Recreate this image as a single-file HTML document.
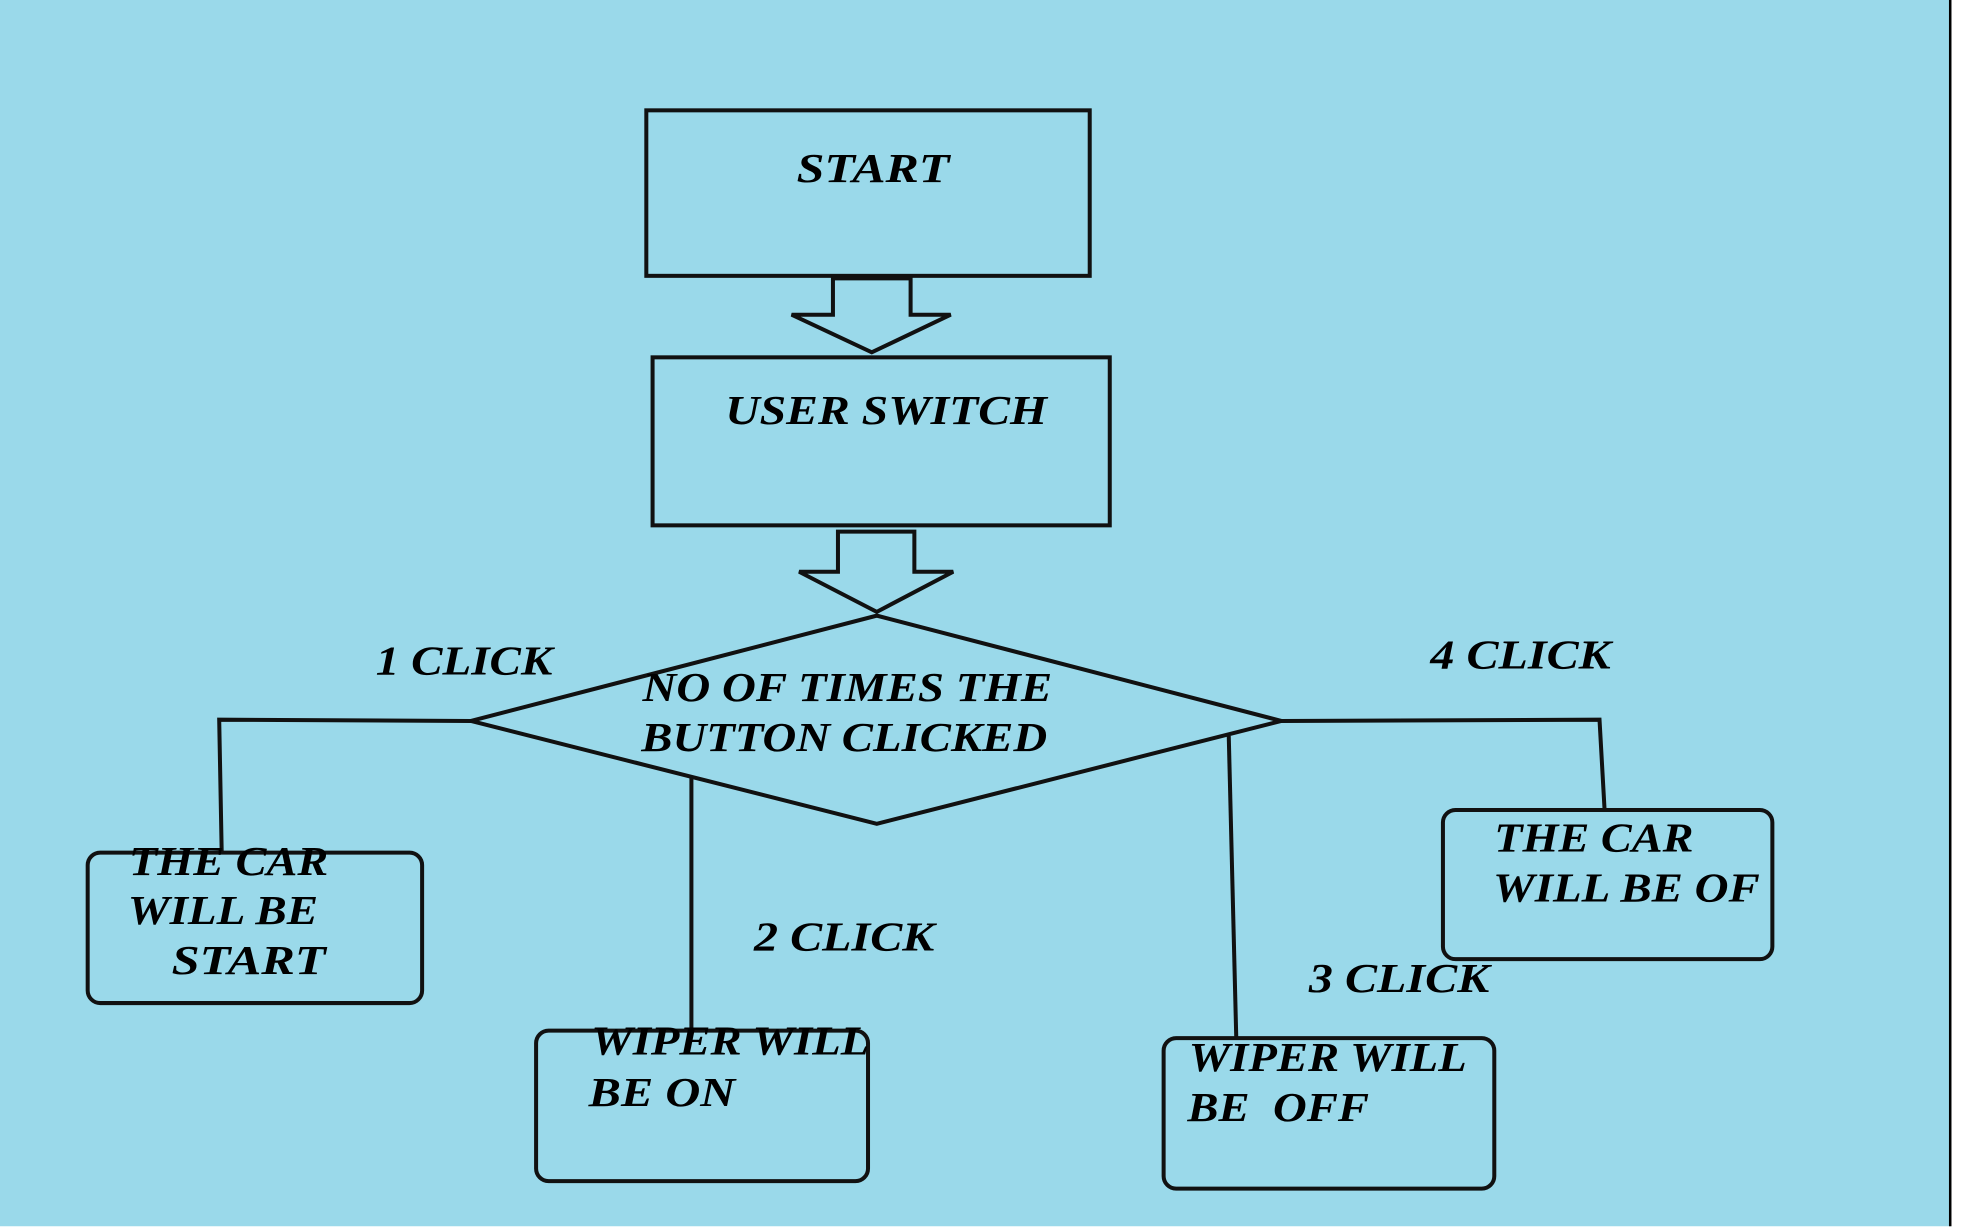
<!DOCTYPE html>
<html><head><meta charset="utf-8"><style>
html,body{margin:0;padding:0;background:#fff;}
svg{display:block;}
text{font-family:"Liberation Serif",serif;font-weight:bold;font-style:italic;font-size:33px;fill:#000;}
</style></head><body>
<svg width="1964" height="1230" viewBox="0 0 1568 981" preserveAspectRatio="none" xmlns="http://www.w3.org/2000/svg">
<rect x="0" y="0" width="1558" height="978" fill="#9ad9ea"/>
<line x1="1557" y1="0" x2="1557" y2="978" stroke="#000" stroke-width="2"/>
<g fill="none" stroke="#111" stroke-width="3.2">
<rect x="516" y="88" width="354" height="132"/>
<polygon points="665,222 727,222 727,251 759,251 696,281 632,251 665,251" />
<rect x="521" y="285" width="365" height="134"/>
<polygon points="669,424 730,424 730,456 761,456 700,488 638,456 669,456"/>
<polygon points="700,491 1023,575 700,657 376,575"/>
<polyline points="376,575 175,574 177,680"/>
<rect x="70" y="680" width="267" height="120" rx="10"/>
<line x1="552" y1="620" x2="552" y2="825"/>
<rect x="428" y="822" width="265" height="120" rx="10"/>
<line x1="981" y1="587" x2="987" y2="828"/>
<rect x="929" y="828" width="264" height="120" rx="10"/>
<polyline points="1023,575 1277,574 1281,645"/>
<rect x="1152" y="646" width="263" height="119" rx="10"/>
</g>
<g transform="translate(0,-2)">
<text x="636" y="147" textLength="122" lengthAdjust="spacingAndGlyphs">START</text>
<text x="579" y="340" textLength="257" lengthAdjust="spacingAndGlyphs">USER SWITCH</text>
<text x="513" y="561" textLength="327" lengthAdjust="spacingAndGlyphs">NO OF TIMES THE</text>
<text x="512" y="601" textLength="324" lengthAdjust="spacingAndGlyphs">BUTTON CLICKED</text>
<text x="300" y="540" textLength="141" lengthAdjust="spacingAndGlyphs">1 CLICK</text>
<text x="1142" y="535" textLength="144" lengthAdjust="spacingAndGlyphs">4 CLICK</text>
<text x="103" y="700" textLength="159" lengthAdjust="spacingAndGlyphs">THE CAR</text>
<text x="102" y="739" textLength="152" lengthAdjust="spacingAndGlyphs">WILL BE</text>
<text x="137" y="779" textLength="123" lengthAdjust="spacingAndGlyphs">START</text>
<text x="602" y="760" textLength="144" lengthAdjust="spacingAndGlyphs">2 CLICK</text>
<text x="472" y="843" textLength="222" lengthAdjust="spacingAndGlyphs">WIPER WILL</text>
<text x="470" y="884" textLength="117" lengthAdjust="spacingAndGlyphs">BE ON</text>
<text x="1045" y="793" textLength="144" lengthAdjust="spacingAndGlyphs">3 CLICK</text>
<text x="949" y="856" textLength="222" lengthAdjust="spacingAndGlyphs">WIPER WILL</text>
<text x="948" y="896" textLength="145" lengthAdjust="spacingAndGlyphs" xml:space="preserve">BE  OFF</text>
<text x="1193" y="681" textLength="159" lengthAdjust="spacingAndGlyphs">THE CAR</text>
<text x="1192" y="721" textLength="213" lengthAdjust="spacingAndGlyphs">WILL BE OF</text>
</g>
</svg>
</body></html>
